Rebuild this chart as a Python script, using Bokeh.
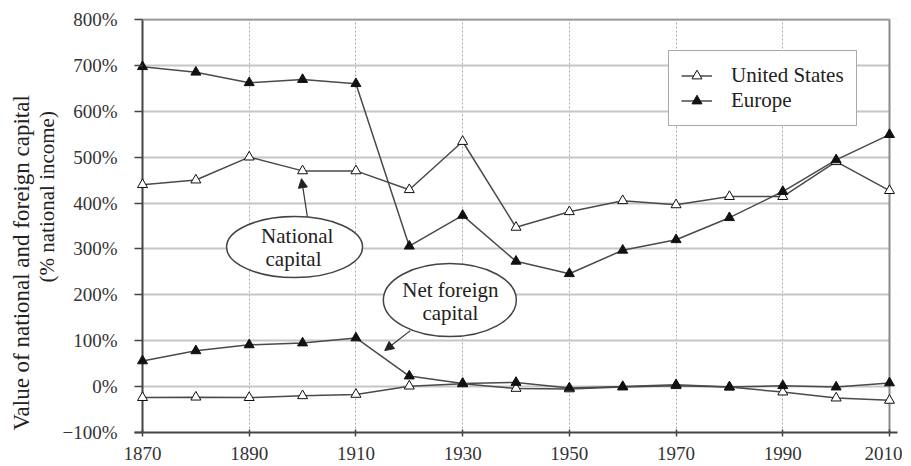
from bokeh.plotting import figure
from bokeh.models import (Range1d, FixedTicker, Legend, LegendItem, Arrow,
                          NormalHead, Title)
from bokeh.core.properties import value
from bokeh.embed import file_html
from bokeh.resources import INLINE

# ---------------- data ----------------
years = [1870, 1880, 1890, 1900, 1910, 1920, 1930, 1940, 1950, 1960, 1970, 1980, 1990, 2000, 2010]
us_national = [440, 450, 500, 470, 470, 429, 534, 347, 381, 405, 396, 414, 414, 490, 427]
eu_national = [697, 685, 662, 669, 660, 306, 373, 273, 246, 297, 320, 368, 425, 494, 549]
us_foreign = [-24, -23, -24, -20, -17, 1, 6, -4, -5, -1, 2, -1, -12, -25, -30]
eu_foreign = [56, 78, 91, 95, 106, 23, 7, 9, -3, 0, 4, -1, 2, -1, 8]

x_ticks = [1870, 1890, 1910, 1930, 1950, 1970, 1990, 2010]
y_ticks = [-100, 0, 100, 200, 300, 400, 500, 600, 700, 800]
y_tick_labels = ["\u2212100%", "0%", "100%", "200%", "300%", "400%", "500%", "600%", "700%", "800%"]

series_names = ["United States", "Europe"]
y_title_1 = "Value of national and  foreign capital"
y_title_2 = "(% national income)"
note_national = ["National", "capital"]
note_foreign = ["Net foreign", "capital"]

FONT = "Liberation Serif"
X0, X1 = 1870, 2010
Y0, Y1 = -100, 800
XPAD = 1.5

p = figure(frame_width=763, frame_height=414,
           min_border_left=134, min_border_right=5, min_border_top=18, min_border_bottom=20,
           x_range=Range1d(X0 - XPAD, X1 + XPAD), y_range=Range1d(Y0, Y1 + 2),
           output_backend="svg", toolbar_location=None)
p.outline_line_color = None
p.background_fill_color = "white"
p.border_fill_color = "white"

# grids
p.xgrid.ticker = FixedTicker(ticks=x_ticks)
p.xgrid.grid_line_color = "#a8a8a8"
p.xgrid.grid_line_dash = "2 2"
p.xgrid.grid_line_width = 1
p.ygrid.ticker = FixedTicker(ticks=y_ticks)
p.ygrid.grid_line_color = "#c6c6c6"
p.ygrid.grid_line_width = 2

# x axis
p.xaxis.ticker = FixedTicker(ticks=x_ticks)
p.xaxis.axis_line_color = "#444"
p.xaxis.axis_line_width = 2
p.xaxis.major_tick_in = 3
p.xaxis.major_tick_out = 4
p.xaxis.major_tick_line_color = "#444"
p.xaxis.major_tick_line_width = 1.5
p.xaxis.minor_tick_line_color = None
p.xaxis.major_label_text_font = FONT
p.xaxis.major_label_text_font_size = "19px"
p.xaxis.major_label_text_color = "#333"
p.xaxis.major_label_standoff = 10

# y axis
p.yaxis.ticker = FixedTicker(ticks=y_ticks)
p.yaxis.axis_line_color = None
p.yaxis.major_tick_in = 8
p.yaxis.major_tick_out = 0
p.yaxis.major_tick_line_color = "#444"
p.yaxis.major_tick_line_width = 1.5
p.yaxis.minor_tick_line_color = None
p.yaxis.major_label_overrides = {t: lab for t, lab in zip(y_ticks, y_tick_labels)}
p.yaxis.major_label_text_font = FONT
p.yaxis.major_label_text_font_size = "19px"
p.yaxis.major_label_text_color = "#333"
p.yaxis.major_label_standoff = 17

# y axis titles (two lines, stacked outward from the axis)
p.add_layout(Title(text=y_title_2, align="left", offset=150, standoff=2,
                   text_font=FONT, text_font_size="21px", text_font_style="normal",
                   text_color="#222"), "left")
p.add_layout(Title(text=y_title_1, align="left", offset=2, standoff=-5,
                   text_font=FONT, text_font_size="23px", text_font_style="normal",
                   text_color="#222"), "left")

# white strips hiding grid overhang outside the 1870-2010 frame
p.quad(left=[X0 - XPAD, X1], right=[X0, X1 + XPAD], bottom=[Y0, Y0], top=[Y1 + 2, Y1 + 2],
       fill_color="white", line_color=None)
# frame lines
p.segment(x0=[X0], y0=[Y0], x1=[X0], y1=[Y1], line_color="#444", line_width=2)
p.segment(x0=[X1], y0=[Y0], x1=[X1], y1=[Y1], line_color="#8a8a8a", line_width=2)
p.segment(x0=[X0], y0=[Y1], x1=[X1], y1=[Y1], line_color="#999", line_width=2)

LINE = "#4a4a4a"
l_us = p.line(years, us_national, line_color=LINE, line_width=1.5)
l_eu = p.line(years, eu_national, line_color=LINE, line_width=1.5)
p.line(years, us_foreign, line_color=LINE, line_width=1.5)
p.line(years, eu_foreign, line_color=LINE, line_width=1.5)
s_us = p.scatter(years, us_national, marker="triangle", size=10, fill_color="white", line_color="#111", line_width=1)
s_eu = p.scatter(years, eu_national, marker="triangle", size=10, fill_color="#111", line_color="#111", line_width=1)
p.scatter(years, us_foreign, marker="triangle", size=10, fill_color="white", line_color="#111", line_width=1)
p.scatter(years, eu_foreign, marker="triangle", size=10, fill_color="#111", line_color="#111", line_width=1)

# annotation ellipses
p.ellipse(x=[1898.5, 1927.6], y=[304, 188.6], width=[136, 133], height=[61, 73],
          width_units="screen", height_units="screen",
          fill_color="white", line_color="#444", line_width=1.5)
p.text(x=[1899.0, 1898.3, 1927.7, 1927.7], y=[329, 277, 211.5, 161],
       text=note_national + note_foreign, text_font=value(FONT), text_font_size="21px",
       text_align="center", text_baseline="middle", text_color="#222")

p.add_layout(Arrow(x_start=1900.9, y_start=370, x_end=1899.8, y_end=453,
                   end=NormalHead(size=9, fill_color="#222", line_color="#222"),
                   line_color="#333", line_width=1.2))
p.add_layout(Arrow(x_start=1920.2, y_start=122, x_end=1915.4, y_end=78.5,
                   end=NormalHead(size=9, fill_color="#222", line_color="#222"),
                   line_color="#333", line_width=1.2))

legend = Legend(items=[LegendItem(label=series_names[0], renderers=[l_us, s_us]),
                       LegendItem(label=series_names[1], renderers=[l_eu, s_eu])],
                location=(534, 306))
legend.label_text_font = FONT
legend.label_text_font_size = "21px"
legend.label_text_color = "#222"
legend.glyph_width = 31
legend.glyph_height = 25
legend.label_height = 25
legend.label_standoff = 19
legend.spacing = 0
legend.padding = 12
legend.margin = 0
legend.border_line_color = "#555"
legend.border_line_width = 1.5
legend.background_fill_alpha = 1
p.add_layout(legend)

open("out.html", "w").write(file_html(p, INLINE))
